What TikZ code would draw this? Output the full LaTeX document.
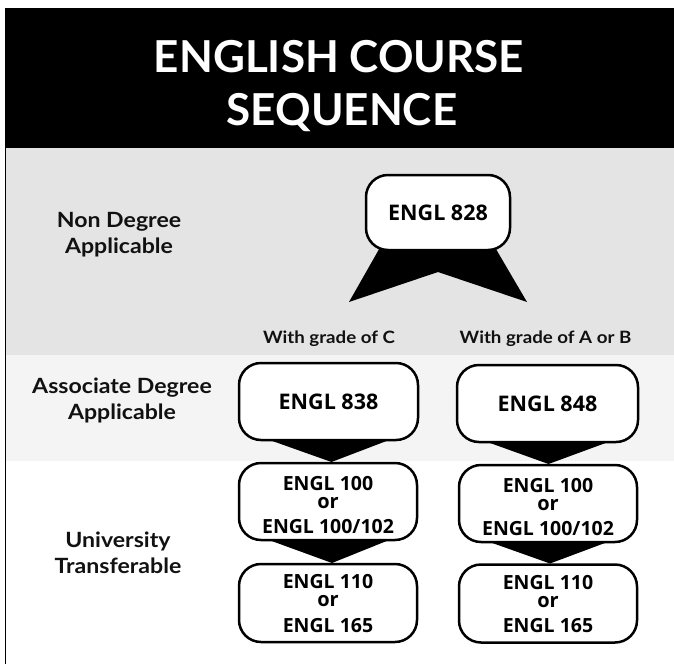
\documentclass[tikz,border=0pt]{standalone}
\usepackage{fontspec}
\setmainfont{Lato}
\newfontfamily\crsfont{Open Sans}
\newfontfamily\lblfont[FakeStretch=1.1]{Lato}
\usetikzlibrary{calc}
\definecolor{bandgray}{HTML}{E4E4E4}
\definecolor{lightband}{HTML}{F4F4F4}
\definecolor{ink}{HTML}{111111}
\newcommand\liftup[2]{\raisebox{#1}[\height][\depth]{#2}}
\newcommand\threeline[4]{\liftup{#1}{\begin{tabular}{@{}c@{}}#2\\{\fontsize{20}{18}\selectfont #3}\\[6pt]#4\end{tabular}}}
\pgfdeclarelayer{bands}
\pgfdeclarelayer{chevrons}
\pgfsetlayers{bands,chevrons,main}
\begin{document}
\begin{tikzpicture}[x=1pt,y=-1pt,
  course/.style={draw=black, line width=2.5pt, rounded corners=22pt, fill=white,
    outer sep=0pt, inner sep=0pt, text=black,
    font=\crsfont\bfseries\fontsize{21.5}{21}\selectfont},
  smallcourse/.style={course, font=\crsfont\bfseries\fontsize{19.5}{18}\selectfont},
  chev/.style={fill=black},
  titletext/.style={text=white, inner sep=0pt, anchor=base,
    font=\bfseries\fontsize{44}{44}\selectfont},
  levellabel/.style={align=center, text=ink, inner sep=0pt,
    font=\lblfont\bfseries\fontsize{21}{26}\selectfont},
  gradelabel/.style={text=ink, inner sep=0pt,
    font=\lblfont\bfseries\fontsize{17}{17}\selectfont}]
\useasboundingbox (0,0) rectangle (674,664);

% bands
\begin{pgfonlayer}{bands}
\fill[black] (5,8) rectangle (674,148);
\fill[bandgray] (5,148) rectangle (674,355);
\fill[lightband] (5,355) rectangle (674,461);
\draw[line width=1.5pt, black] (5.5,8) -- (5.5,664);
\end{pgfonlayer}

% title
\node[titletext] (title1) at (339,72) {ENGLISH COURSE};
\node[titletext] (title2) at (342,125) {SEQUENCE};

% level labels
\node[levellabel] (nondeg) at (119,235) {Non Degree\\Applicable};
\node[levellabel] (assoc) at (122,400) {Associate Degree\\Applicable};
\node[levellabel] (univ) at (118,553) {University\\Transferable};

% grade labels
\node[gradelabel] (gradeC) at (329,339) {With grade of C};
\node[gradelabel] (gradeAB) at (545.5,339) {With grade of A or B};

% course boxes
\node[course, minimum width=144pt, minimum height=75pt] (b828) at (438,212.5) {ENGL 828};
\node[course, minimum width=179pt, minimum height=77pt] (b838) at (328.5,401.5) {ENGL 838};
\node[course, minimum width=181pt, minimum height=77pt] (b848) at (547.5,403.5) {ENGL 848};
\node[smallcourse, minimum width=178pt, minimum height=77pt] (b100L) at (328,501.5) {\threeline{-6pt}{ENGL 100}{or}{ENGL 100/102}};
\node[smallcourse, minimum width=178pt, minimum height=77pt] (b100R) at (548,503.5) {\threeline{-6pt}{ENGL 100}{or}{ENGL 100/102}};
\node[smallcourse, minimum width=178pt, minimum height=78pt] (b110L) at (328,603) {\threeline{-3pt}{ENGL 110}{or}{ENGL 165}};
\node[smallcourse, minimum width=178pt, minimum height=78pt] (b110R) at (548,603.5) {\threeline{-3pt}{ENGL 110}{or}{ENGL 165}};

% chevron connectors
\begin{pgfonlayer}{chevrons}
\fill[chev] ($(b828.south)+(-56,-6)$) -- ($(b828.south)+(55,-6)$)
  -- ($(b828.south)+(89,52)$) -- ($(b828.south)+(0,22)$)
  -- ($(b828.south)+(-89,52)$) -- cycle;
\fill[chev] ($(b838.south west)+(8,-8)$) -- ($(b838.south east)+(-8,-8)$)
  -- ($(b838.south |- b100L.north)+(3,-1)$) -- cycle;
\fill[chev] ($(b848.south west)+(8,-8)$) -- ($(b848.south east)+(-8,-8)$)
  -- ($(b848.south |- b100R.north)+(1,-1)$) -- cycle;
\fill[chev] ($(b100L.south west)+(8,-8)$) -- ($(b100L.south east)+(-8,-8)$)
  -- ($(b100L.south |- b110L.north)+(4,-1)$) -- cycle;
\fill[chev] ($(b100R.south west)+(8,-8)$) -- ($(b100R.south east)+(-8,-8)$)
  -- ($(b100R.south |- b110R.north)+(2,-1)$) -- cycle;
\end{pgfonlayer}
\end{tikzpicture}
\end{document}
